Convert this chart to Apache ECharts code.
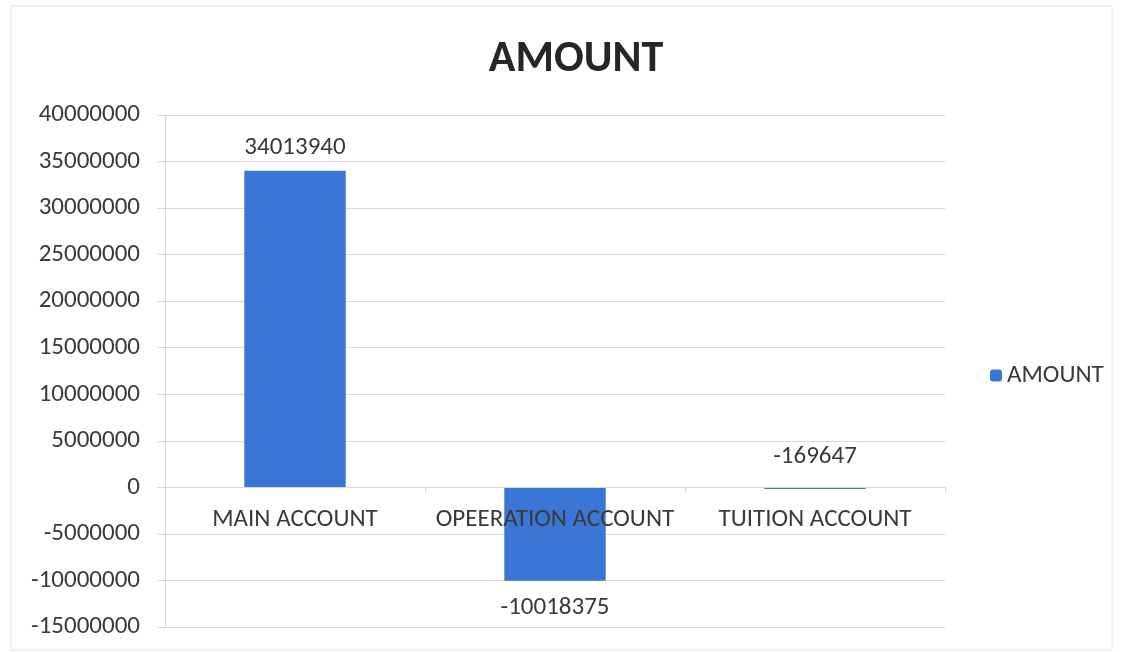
<!DOCTYPE html>
<html lang="en">
<head>
    <meta charset="UTF-8">
    <title>AMOUNT</title>
    <script type="text/javascript" src="https://cdn.jsdelivr.net/npm/echarts@6/dist/echarts.min.js"></script>
    <style>
      html, body { margin: 0; padding: 0; background: #fff; }
      #chart { width: 1124px; height: 652px; }
    </style>
</head>
<body>
  <div id="chart"></div>

<script type="text/javascript">
  // data
  var categories = ['MAIN ACCOUNT', 'OPEERATION ACCOUNT', 'TUITION ACCOUNT'];
  var amounts = [34013940, -10018375, -169647];
  var yTicks = { min: -15000000, max: 40000000, interval: 5000000 };
  var seriesName = 'AMOUNT';

  var textColor = '#3a3a3a';
  var font = 'Calibri, Carlito, "Open Sans", "Noto Sans", sans-serif';

  var gridTop = 115, gridBottom = 25, chartH = 652;
  var plotH = chartH - gridTop - gridBottom;
  // category axis sits on the zero line, so shift it up from the bottom
  var zeroShift = plotH * (0 - yTicks.min) / (yTicks.max - yTicks.min);

  // label under the bar for big negative values, above otherwise
  var barData = [];
  for (var i = 0; i < amounts.length; i++) {
    var v = amounts[i];
    var below = v < -1000000;
    barData.push({
      value: v,
      label: {
        position: below ? 'bottom' : 'top',
        distance: below ? 15 : (v < 0 ? 18 : 10)
      }
    });
  }

  var myChart = echarts.init(document.getElementById('chart'));

  var option = {
    backgroundColor: '#fff',
    textStyle: { fontFamily: font },
    title: {
      text: 'AMOUNT',
      left: 571,
      textAlign: 'center',
      top: 33,
      textStyle: { fontSize: 44, fontWeight: 'bold', color: '#262626', fontFamily: font }
    },
    legend: {
      data: [seriesName],
      orient: 'vertical',
      left: 985,
      top: 358,
      itemWidth: 12,
      itemHeight: 12,
      itemGap: 6,
      textStyle: { fontSize: 25, color: textColor, fontFamily: font }
    },
    grid: { left: 165, right: 179, top: gridTop, bottom: gridBottom, containLabel: false, outerBoundsMode: 'none' },
    xAxis: {
      type: 'category',
      data: categories,
      offset: -zeroShift,
      z: 5,
      axisLine: { onZero: false, lineStyle: { color: '#d9d9d9' } },
      axisTick: { show: true, alignWithLabel: false, length: 5, lineStyle: { color: '#d9d9d9' } },
      axisLabel: { color: textColor, fontSize: 25, margin: 20, interval: 0, fontFamily: font },
      splitLine: { show: false }
    },
    yAxis: {
      type: 'value',
      min: yTicks.min,
      max: yTicks.max,
      interval: yTicks.interval,
      axisLine: { show: true, lineStyle: { color: '#d9d9d9' } },
      axisTick: { show: true, length: 8, lineStyle: { color: '#d9d9d9' } },
      axisLabel: { color: textColor, fontSize: 25, margin: 25, fontFamily: font,
        formatter: function (val) { return String(val); } },
      splitLine: { lineStyle: { color: '#d9d9d9' } }
    },
    graphic: [{
      type: 'rect',
      shape: { x: 11, y: 6, width: 1101, height: 644 },
      style: { fill: 'none', stroke: '#e4e4e4', lineWidth: 1 },
      silent: true
    }],
    series: [{
      name: seriesName,
      type: 'bar',
      data: barData,
      barWidth: '39%',
      itemStyle: { color: '#3a76d6' },
      label: {
        show: true,
        color: textColor,
        fontSize: 25,
        fontFamily: font
      }
    }]
  };

  myChart.setOption(option);
</script>
</body>
</html>
